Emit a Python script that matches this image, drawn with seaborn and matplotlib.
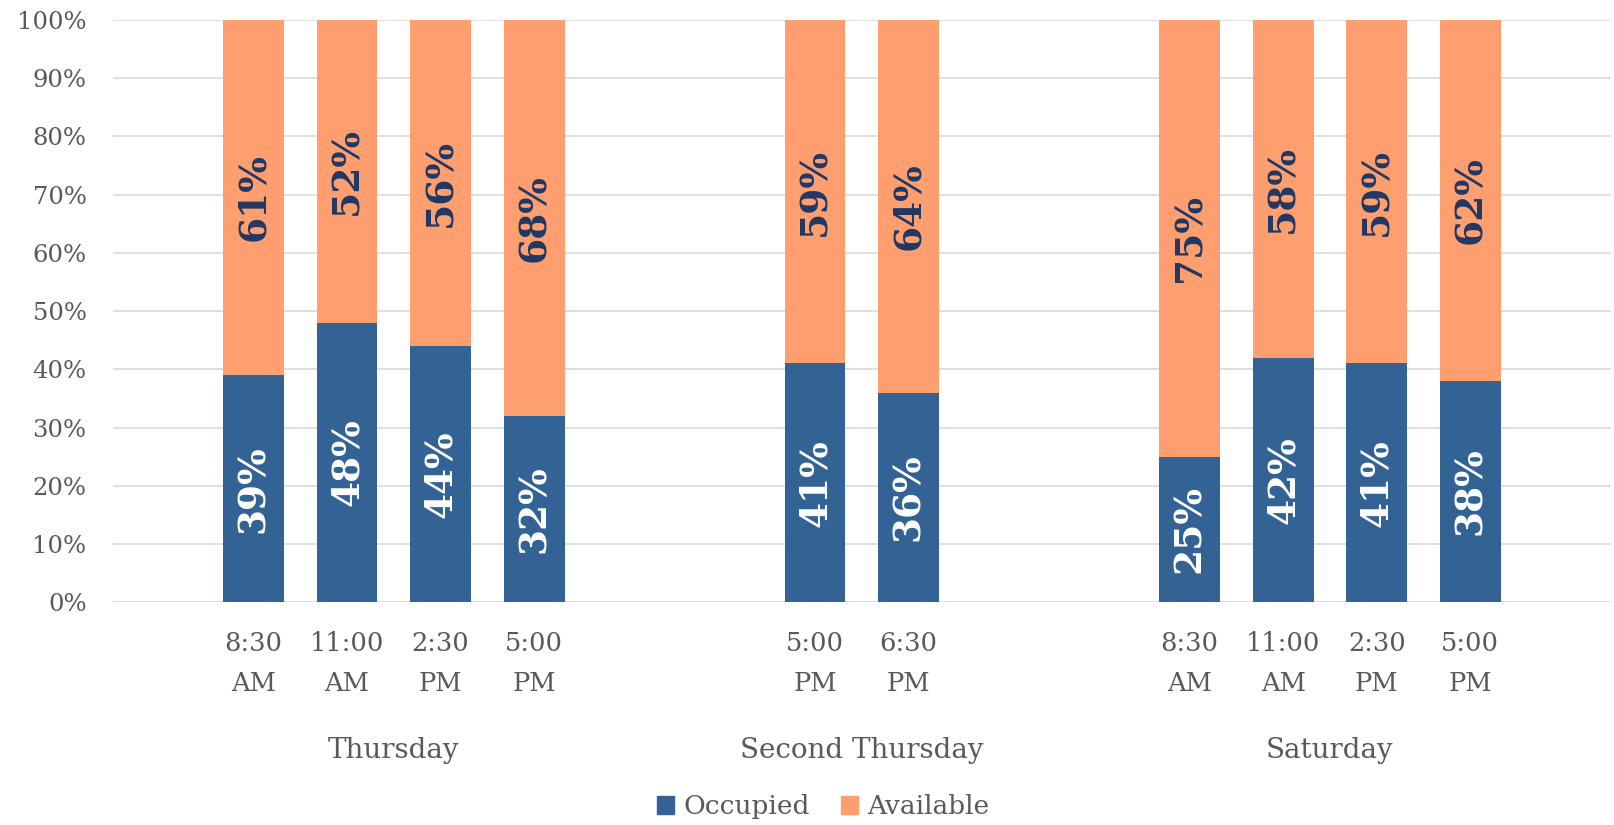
import numpy as np
import pandas as pd
import seaborn as sns
import matplotlib.pyplot as plt
from matplotlib.patches import Patch

# chart data
days = ["Thursday", "Second Thursday", "Saturday"]
times = [["8:30\nAM", "11:00\nAM", "2:30\nPM", "5:00\nPM"],
         ["5:00\nPM", "6:30\nPM"],
         ["8:30\nAM", "11:00\nAM", "2:30\nPM", "5:00\nPM"]]
occupied = [39, 48, 44, 32, 41, 36, 25, 42, 41, 38]
available = [61, 52, 56, 68, 59, 64, 75, 58, 59, 62]

BLUE = "#336294"
ORANGE = "#FF9E6E"
GRAY = "#595959"

sns.set_theme(style="white")
plt.rcParams["font.family"] = ["DejaVu Serif"]

# build the slot order: one empty slot on each side of every day group
order, ticklabels, rows = [], [], []
group_centers = []
n = 0
k = 0
for d, tlist in zip(days, times):
    order.append(f"blank{n}"); ticklabels.append(""); n += 1
    start = len(order)
    for t in tlist:
        key = f"{d}|{t}"
        order.append(key); ticklabels.append(t)
        rows.append({"slot": key, "occupied": occupied[k], "available": available[k]})
        k += 1
    group_centers.append((start + len(order) - 1) / 2)
    order.append(f"blank{n}"); ticklabels.append(""); n += 1

df = pd.DataFrame(rows)

fig = plt.figure(figsize=(16.14, 8.25), dpi=100)
ax = fig.add_axes([0.070, 0.270, 0.928, 0.706])

sns.barplot(data=df, x="slot", y="occupied", order=order, color=BLUE,
            saturation=1, width=0.65, errorbar=None, linewidth=0, ax=ax)
sns.barplot(data=df, x="slot", y="available", order=order, color=ORANGE,
            saturation=1, width=0.65, errorbar=None, linewidth=0,
            bottom=df["occupied"].values, ax=ax)

occ_bars, av_bars = ax.containers[0], ax.containers[1]
ax.bar_label(occ_bars, labels=[f"{v}%" for v in df["occupied"]], label_type="center",
             rotation=90, color="white", fontsize=27, fontweight="bold")
ax.bar_label(av_bars, labels=[f"{v}%" for v in df["available"]], label_type="center",
             rotation=90, color="#1F3864", fontsize=27, fontweight="bold")

ax.set_xlim(-0.5, len(order) - 0.5)
ax.set_ylim(0, 100)
ax.set_yticks(np.arange(0, 101, 10))
ax.set_yticklabels([f"{v}%" for v in range(0, 101, 10)])
ax.yaxis.grid(True, color="#D9D9D9", linewidth=1.2)
ax.set_axisbelow(True)
for s in ax.spines.values():
    s.set_visible(False)
ax.set_xticks(range(len(order)))
ax.set_xticklabels(ticklabels, linespacing=1.73)
ax.tick_params(axis="x", length=0, pad=21, labelsize=18.5, labelcolor=GRAY)
ax.tick_params(axis="y", length=0, pad=19, labelsize=17.5, labelcolor=GRAY)
ax.set_xlabel("")
ax.set_ylabel("")

for c, d in zip(group_centers, days):
    ax.text(c, -25.5, d, ha="center", va="center", fontsize=20, color=GRAY,
            transform=ax.transData)

handles = [Patch(color=BLUE, label="Occupied"), Patch(color=ORANGE, label="Available")]
fig.legend(handles=handles, loc="center", bbox_to_anchor=(0.51, 0.022), ncol=2,
           frameon=False, fontsize=19, labelcolor=GRAY, handlelength=0.65,
           handleheight=0.65, handletextpad=0.35, columnspacing=1.2)

fig.savefig("out.png", dpi=100)
